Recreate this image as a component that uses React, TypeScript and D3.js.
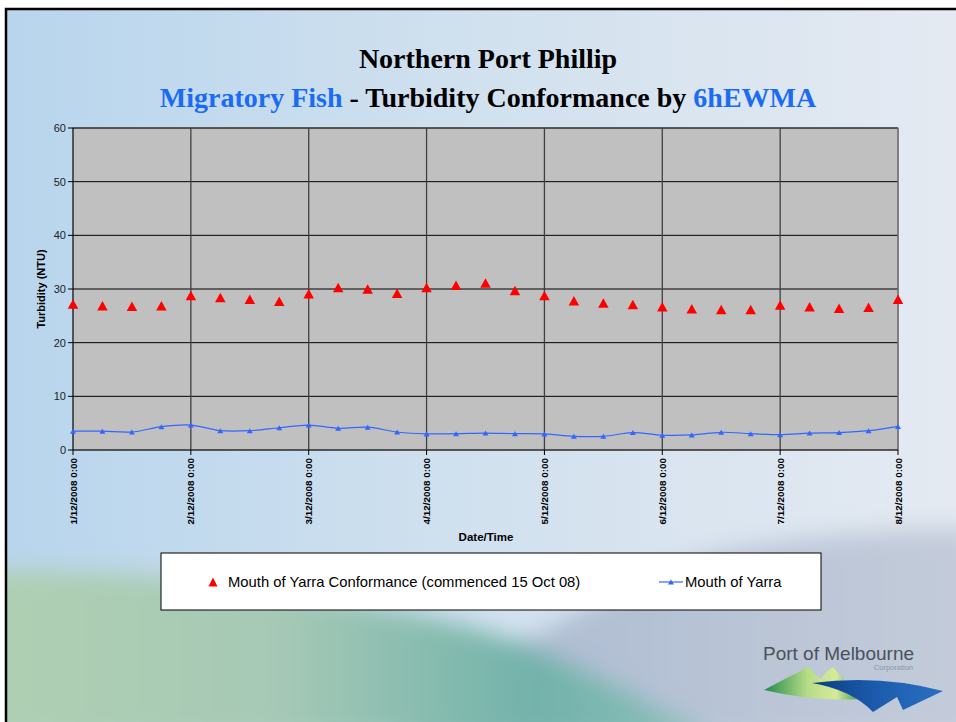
import * as d3 from 'd3';

const W = 956;
const H = 722;

// 6-hourly readings, 1 Dec 2008 00:00 to 8 Dec 2008 00:00
const startDate = new Date(2008, 11, 1, 0, 0);
const endDate = new Date(2008, 11, 8, 0, 0);
const times = d3.timeHour.every(6)!.range(startDate, new Date(2008, 11, 8, 1));

const conformance = [
    27.2, 26.9, 26.8, 26.9, 28.8, 28.4, 28.1, 27.7, 29.1, 30.3, 30.0, 29.2, 30.3, 30.7, 31.1, 29.7,
    28.8, 27.8, 27.4, 27.1, 26.7, 26.3, 26.2, 26.2, 27.0, 26.7, 26.4, 26.6, 28.1,
];
const mouthOfYarra = [
    3.5, 3.5, 3.35, 4.35, 4.65, 3.6, 3.6, 4.15, 4.65, 4.05, 4.25, 3.35, 3.0, 3.05, 3.15, 3.05,
    3.0, 2.55, 2.55, 3.25, 2.75, 2.8, 3.3, 3.05, 2.85, 3.15, 3.25, 3.6, 4.4,
];

const tickDates = d3.timeDay.range(startDate, new Date(2008, 11, 8, 1));
const tickLabels = [
    '1/12/2008 0:00',
    '2/12/2008 0:00',
    '3/12/2008 0:00',
    '4/12/2008 0:00',
    '5/12/2008 0:00',
    '6/12/2008 0:00',
    '7/12/2008 0:00',
    '8/12/2008 0:00',
];
const yTicks = [0, 10, 20, 30, 40, 50, 60];

const legendLabels = ['Mouth of Yarra Conformance (commenced 15 Oct 08)', 'Mouth of Yarra'];

const plot = { left: 73, right: 898, top: 128, bottom: 450 };
const sans = '"Liberation Sans", Arial, sans-serif';
const serif = '"Liberation Serif", "Times New Roman", serif';

function tri(cx: number, cy: number, w: number, h: number) {
    return `M${cx},${cy - h / 2}L${cx + w / 2},${cy + h / 2}L${cx - w / 2},${cy + h / 2}Z`;
}

export default function App() {
    const x = d3.scaleTime().domain([startDate, endDate]).range([plot.left, plot.right]);
    const y = d3.scaleLinear().domain([0, 60]).range([plot.bottom, plot.top]);

    const line = d3
        .line<number>()
        .x((_, i) => x(times[i]))
        .y((d) => y(d))
        .curve(d3.curveCatmullRom.alpha(0.5));

    return (
        <svg
            width={W}
            height={H}
            viewBox={`0 0 ${W} ${H}`}
            style={{ position: 'absolute', left: 0, top: 0, background: '#fff' }}
        >
            <defs>
                <linearGradient id="bg" x1="0" x2="1" y1="0" y2="0">
                    <stop offset="0%" stopColor="#b8d5ed" />
                    <stop offset="45%" stopColor="#cfe0ee" />
                    <stop offset="100%" stopColor="#e5eaf2" />
                </linearGradient>
                <linearGradient id="greenBand" x1="0" x2="1" y1="0" y2="0">
                    <stop offset="0%" stopColor="#b0d0b2" />
                    <stop offset="40%" stopColor="#a6c9b6" />
                    <stop offset="75%" stopColor="#72b2aa" />
                    <stop offset="100%" stopColor="#8ec0bc" />
                </linearGradient>
                <linearGradient id="greyBand" x1="0" x2="1" y1="0" y2="0">
                    <stop offset="0%" stopColor="#a8b8d0" />
                    <stop offset="100%" stopColor="#c4ccda" />
                </linearGradient>
                <linearGradient id="logoGreen" x1="0" x2="1" y1="0" y2="0">
                    <stop offset="0%" stopColor="#1f8a4c" />
                    <stop offset="45%" stopColor="#b6dc86" />
                    <stop offset="75%" stopColor="#d6ea9a" />
                    <stop offset="100%" stopColor="#3a9a5a" />
                </linearGradient>
                <linearGradient id="logoBlue" x1="0" x2="1" y1="0" y2="0">
                    <stop offset="0%" stopColor="#0b3d86" />
                    <stop offset="50%" stopColor="#1c5cae" />
                    <stop offset="100%" stopColor="#2a70c0" />
                </linearGradient>
                <filter id="soft" x="-20%" y="-20%" width="140%" height="140%">
                    <feGaussianBlur stdDeviation="12" />
                </filter>
                <clipPath id="frame">
                    <rect x={6} y={9} width={W} height={H} />
                </clipPath>
            </defs>

            {/* slide background */}
            <g clipPath="url(#frame)">
                <rect x={6} y={9} width={W} height={H} fill="url(#bg)" />
                <path
                    d="M380,740 C520,640 650,560 760,545 C850,532 920,528 980,528 L980,740 Z"
                    fill="url(#greyBand)"
                    filter="url(#soft)"
                />
                <path
                    d="M-20,572 C120,565 300,590 420,615 C540,640 620,690 720,740 L-20,740 Z"
                    fill="url(#greenBand)"
                    filter="url(#soft)"
                />
            </g>
            <rect x={6} y={9} width={W} height={H} fill="none" stroke="#000" strokeWidth={2.5} />

            {/* titles */}
            <text x={488} y={68} textAnchor="middle" fontFamily={serif} fontWeight="bold" fontSize={28}>
                Northern Port Phillip
            </text>
            <text x={488} y={107} textAnchor="middle" fontFamily={serif} fontWeight="bold" fontSize={28}>
                <tspan fill="#1a6cf5">Migratory Fish</tspan>
                <tspan fill="#000"> - Turbidity Conformance by </tspan>
                <tspan fill="#1a6cf5">6hEWMA</tspan>
            </text>

            {/* plot area */}
            <rect
                x={plot.left}
                y={plot.top}
                width={plot.right - plot.left}
                height={plot.bottom - plot.top}
                fill="#c0c0c0"
                stroke="#808080"
                strokeWidth={1}
            />
            {yTicks.slice(1).map((t) => (
                <line key={`h${t}`} x1={plot.left} x2={plot.right} y1={y(t)} y2={y(t)} stroke="#000" strokeWidth={1} />
            ))}
            {tickDates.slice(1, -1).map((d, i) => (
                <line key={`v${i}`} x1={x(d)} x2={x(d)} y1={plot.top} y2={plot.bottom} stroke="#404040" strokeWidth={1.3} />
            ))}
            <line x1={plot.right} x2={plot.right} y1={plot.top} y2={plot.bottom} stroke="#707070" strokeWidth={1.5} />

            {/* axes */}
            <line x1={plot.left} x2={plot.left} y1={plot.top} y2={plot.bottom} stroke="#000" strokeWidth={1} />
            <line x1={plot.left} x2={plot.right} y1={plot.bottom} y2={plot.bottom} stroke="#000" strokeWidth={1} />
            {yTicks.map((t) => (
                <g key={`yt${t}`}>
                    <line x1={plot.left - 5} x2={plot.left} y1={y(t)} y2={y(t)} stroke="#000" />
                    <text
                        x={plot.left - 7}
                        y={y(t)}
                        dy="0.35em"
                        textAnchor="end"
                        fontFamily={sans}
                        fontSize={11}
                        fill="#222"
                    >
                        {t}
                    </text>
                </g>
            ))}
            {tickDates.map((d, i) => (
                <g key={`xt${i}`}>
                    <line x1={x(d)} x2={x(d)} y1={plot.bottom} y2={plot.bottom + 5} stroke="#000" />
                    <text
                        transform={`translate(${x(d) + 3.5},${plot.bottom + 8}) rotate(-90)`}
                        textAnchor="end"
                        fontFamily={sans}
                        fontWeight="bold"
                        fontSize={9.9}
                        fill="#000"
                    >
                        {tickLabels[i]}
                    </text>
                </g>
            ))}
            <text x={486} y={541} textAnchor="middle" fontFamily={sans} fontWeight="bold" fontSize={11.5}>
                Date/Time
            </text>
            <text
                transform={`translate(45,${(plot.top + plot.bottom) / 2}) rotate(-90)`}
                textAnchor="middle"
                fontFamily={sans}
                fontWeight="bold"
                fontSize={11}
            >
                Turbidity (NTU)
            </text>

            {/* series */}
            {conformance.map((v, i) => (
                <path key={`c${i}`} d={tri(x(times[i]), y(v), 10.5, 9.5)} fill="#ff0000" />
            ))}
            <path d={line(mouthOfYarra) ?? ''} fill="none" stroke="#3366ff" strokeWidth={1.2} />
            {mouthOfYarra.map((v, i) => (
                <path key={`m${i}`} d={tri(x(times[i]), y(v), 6, 5)} fill="#3366ff" />
            ))}

            {/* legend */}
            <rect x={161} y={553} width={660} height={57} fill="#fff" stroke="#000" strokeWidth={1} />
            <path d={tri(213, 582, 9, 9)} fill="#ff0000" />
            <text x={228} y={587} fontFamily={sans} fontSize={14.8} fill="#000">
                {legendLabels[0]}
            </text>
            <line x1={659} x2={683} y1={582} y2={582} stroke="#3366ff" strokeWidth={1.2} />
            <path d={tri(671, 582, 6, 5)} fill="#3366ff" />
            <text x={685} y={587} fontFamily={sans} fontSize={14.8} fill="#000">
                {legendLabels[1]}
            </text>

            {/* logo */}
            <text x={763} y={660} fontFamily={sans} fontSize={19} fill="#4a505c">
                Port of Melbourne
            </text>
            <text x={913} y={670} textAnchor="end" fontFamily={sans} fontSize={7.5} fill="#8a96a8">
                Corporation
            </text>
            <path
                d="M764,690 Q790,676 809,667 Q816,676 821,679 Q828,669 833,667 Q846,682 860,699 Q815,702 764,690 Z"
                fill="url(#logoGreen)"
            />
            <path
                d="M812,683 Q880,674 943,691 L903,710 L897,697 L873,712 Q852,690 812,683 Z"
                fill="url(#logoBlue)"
            />
        </svg>
    );
}
